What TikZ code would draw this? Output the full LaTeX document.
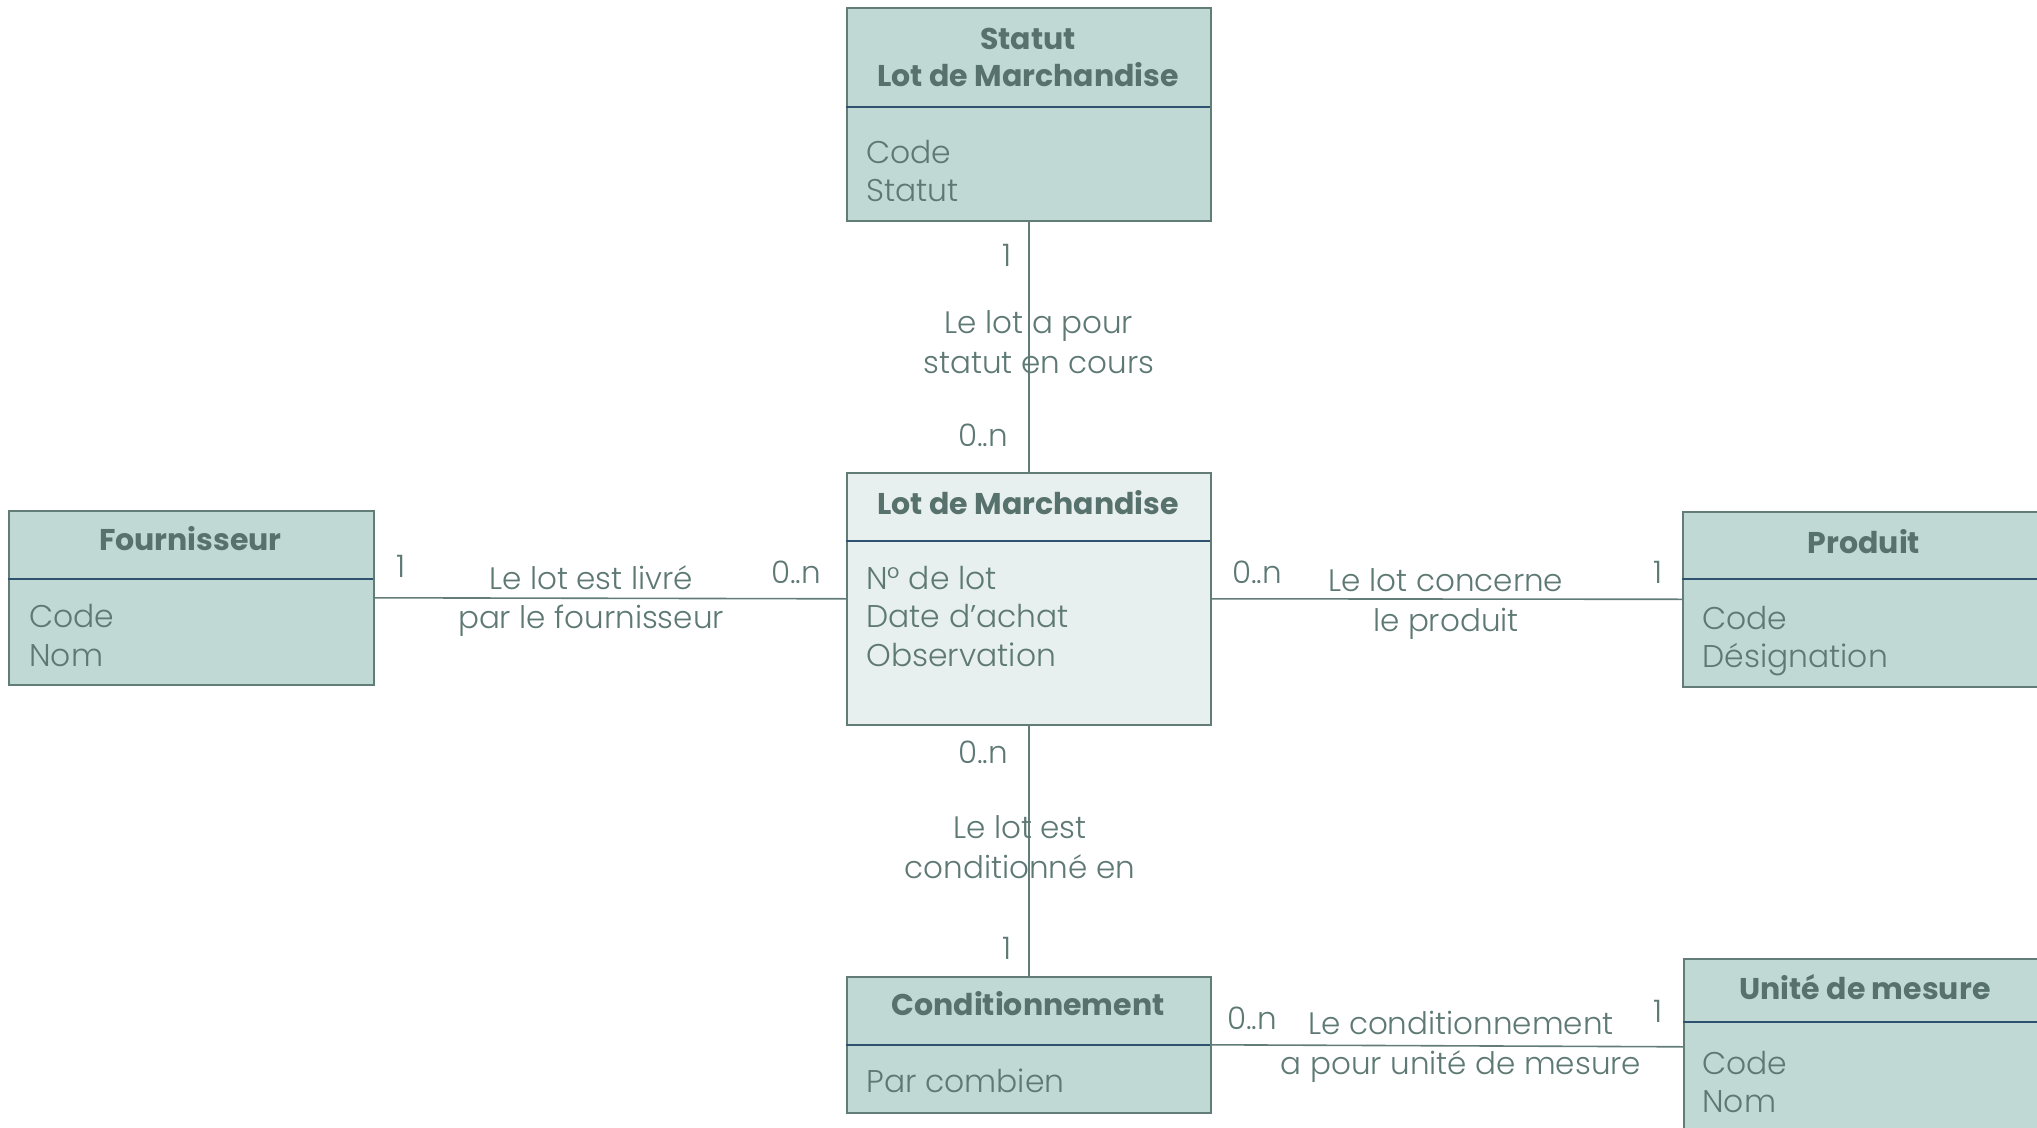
\documentclass[tikz,border=0pt]{standalone}
\usepackage{fontspec}
\setmainfont{Poppins}[UprightFont={* Light}, BoldFont={* Bold}]
\definecolor{boxfill}{HTML}{C1D9D4}
\definecolor{mainfill}{HTML}{E7F0EE}
\definecolor{boxline}{HTML}{627C77}
\definecolor{divline}{HTML}{2F5270}
\definecolor{txt}{HTML}{5E7974}
\definecolor{headtxt}{HTML}{57716C}
\tikzset{
  entity/.style={draw=boxline, fill=boxfill, line width=0.8pt, inner sep=0pt, anchor=north west},
  divider/.style={draw=divline, line width=0.8pt},
  link/.style={draw=boxline, line width=0.8pt},
  head/.style={font=\fontsize{15}{18.5}\selectfont\bfseries, text=headtxt, align=center, inner sep=0pt},
  attr/.style={font=\fontsize{15.7}{19.25}\selectfont, text=txt, align=left, inner sep=0pt, anchor=west},
  rel/.style={font=\fontsize{15.5}{19.8}\selectfont, text=txt, align=center, inner sep=0pt},
  card/.style={font=\fontsize{15.5}{19.5}\selectfont, text=txt, inner sep=0pt},
}
\begin{document}
\begin{tikzpicture}[x=0.5pt, y=-0.5pt]
\useasboundingbox (0,0) rectangle (2037,1128);

% Statut Lot de Marchandise
\node[entity, minimum width=182pt, minimum height=106.5pt] (statut) at (846,7) {};
\draw[divider] (846,107) -- (1210,107);
\node[head] (statut-h) at (1028,57) {Statut\\Lot de Marchandise};
\node[attr] (statut-a) at (866,171) {Code\\Statut};

% Lot de Marchandise
\node[entity, fill=mainfill, minimum width=182pt, minimum height=126pt] (lot) at (846,472) {};
\draw[divider] (846,541) -- (1210,541);
\node[head] (lot-h) at (1028,503) {Lot de Marchandise};
\node[attr] (lot-a) at (866,616.5) {N° de lot\\Date d’achat\\Observation};

% Fournisseur
\node[entity, minimum width=182.5pt, minimum height=87pt] (four) at (8,510) {};
\draw[divider] (8,579) -- (373,579);
\node[head] (four-h) at (190.5,539) {Fournisseur};
\node[attr] (four-a) at (29,635.5) {Code\\Nom};

% Produit
\node[entity, minimum width=182.5pt, minimum height=87.5pt] (prod) at (1682,511) {};
\draw[divider] (1682,579) -- (2047,579);
\node[head] (prod-h) at (1864,542) {Produit};
\node[attr] (prod-a) at (1702,641) {Code\\Désignation};

% Conditionnement
\node[entity, minimum width=182pt, minimum height=68pt] (cond) at (846,976) {};
\draw[divider] (846,1045) -- (1210,1045);
\node[head] (cond-h) at (1028,1004) {Conditionnement};
\node[attr] (cond-a) at (866,1081) {Par combien};

% Unité de mesure
\node[entity, minimum width=182.5pt, minimum height=88pt] (unit) at (1683,958) {};
\draw[divider] (1683,1022) -- (2048,1022);
\node[head] (unit-h) at (1865,987) {Unité de mesure};
\node[attr] (unit-a) at (1702,1082) {Code\\Nom};

% Associations
\draw[link] (statut.south) -- (lot.north);
\draw[link] (four.east) -- (lot.west);
\draw[link] (lot.east) -- (prod.west);
\draw[link] (lot.south) -- (cond.north);
\draw[link] (cond.east) -- (unit.west);

% Association labels and cardinalities
\node[card] (c1a) at (1007,255) {1};
\node[rel] (r1) at (1039,342) {Le lot a pour\\statut en cours};
\node[card] (c1b) at (983,435) {0..n};

\node[card] (c2a) at (401,566) {1};
\node[rel] (r2) at (591,601) {Le lot est livré\\par le fournisseur};
\node[card] (c2b) at (796,572) {0..n};

\node[card] (c3a) at (1257,572) {0..n};
\node[rel] (r3) at (1446,604) {Le lot concerne\\le produit};
\node[card] (c3b) at (1658,572) {1};

\node[card] (c4a) at (983,752) {0..n};
\node[rel] (r4) at (1020,847) {Le lot est\\conditionné en};
\node[card] (c4b) at (1007,948) {1};

\node[card] (c5a) at (1252,1018) {0..n};
\node[rel] (r5) at (1461,1047) {Le conditionnement\\a pour unité de mesure};
\node[card] (c5b) at (1658,1011) {1};
\end{tikzpicture}
\end{document}
